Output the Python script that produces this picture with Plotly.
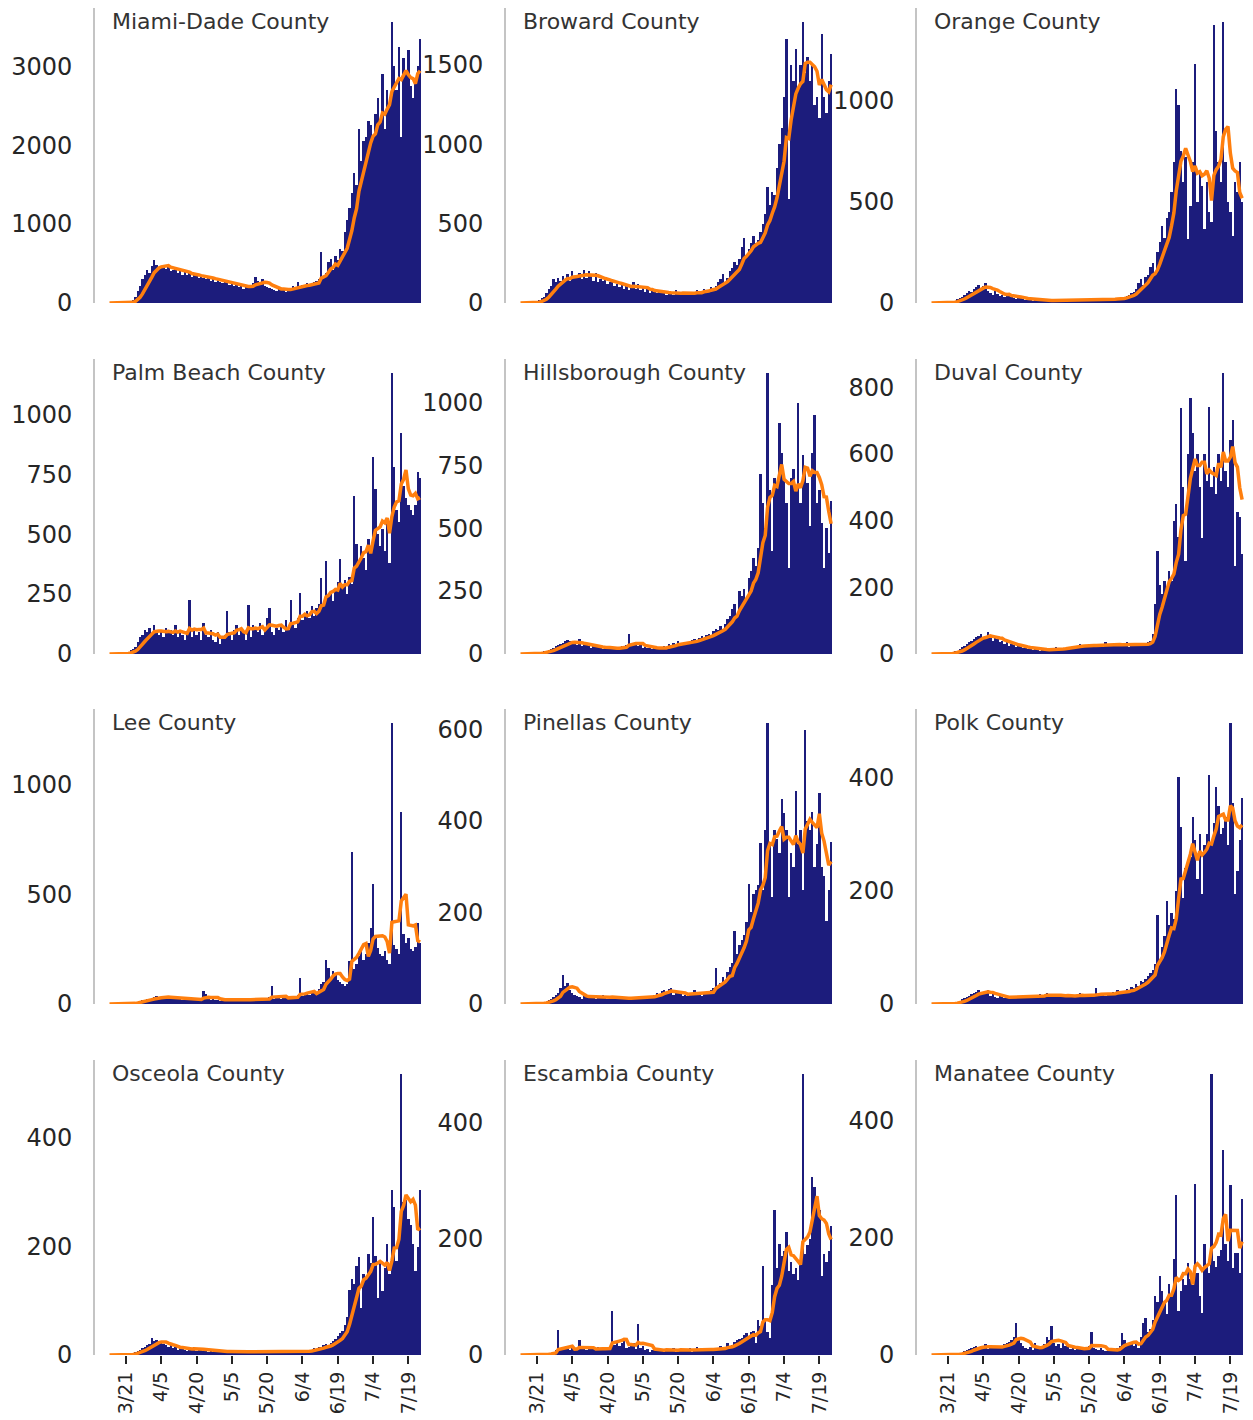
import pandas as pd
import plotly.graph_objects as go

# ---------------- data ----------------
start_date = "2020-03-14"
n_days = 133

counties = ["Miami-Dade County", "Broward County", "Orange County",
            "Palm Beach County", "Hillsborough County", "Duval County",
            "Lee County", "Pinellas County", "Polk County",
            "Osceola County", "Escambia County", "Manatee County"]

miami_dade = [0, 0, 0, 0, 0, 1, 2, 3, 5, 10,
              40, 80, 150, 220, 300, 350, 420, 380, 470, 550,
              480, 450, 460, 470, 430, 480, 400, 420, 460, 380,
              400, 360, 410, 350, 380, 330, 360, 340, 320, 350,
              320, 300, 340, 280, 310, 260, 300, 270, 250, 290,
              260, 230, 250, 210, 240, 200, 220, 180, 230, 190,
              210, 250, 330, 280, 240, 300, 220, 200, 190, 180,
              170, 150, 200, 160, 190, 140, 180, 170, 210, 190,
              260, 200, 230, 210, 250, 240, 230, 260, 280, 300,
              650, 320, 380, 520, 560, 420, 600, 540, 680, 660,
              900, 1050, 1200, 1400, 1650, 1500, 2200, 1800, 2050, 2100,
              2300, 2250, 2100, 2400, 2600, 2300, 2900, 2200, 2700, 2500,
              3560, 3000, 2700, 3250, 2100, 3100, 2900, 3200, 2750, 2600,
              2800, 3000, 3350]

broward = [0, 0, 0, 0, 1, 2, 5, 10, 20, 30,
           40, 60, 90, 110, 150, 130, 160, 140, 170, 150,
           180, 140, 200, 160, 170, 190, 150, 210, 160, 200,
           170, 140, 190, 130, 150, 140, 160, 120, 130, 150,
           110, 120, 100, 130, 90, 110, 80, 100, 130, 90,
           120, 80, 100, 70, 90, 60, 80, 70, 60, 80,
           70, 60, 50, 70, 60, 50, 80, 60, 55, 70,
           60, 50, 70, 65, 60, 80, 70, 60, 90, 80,
           85, 100, 90, 110, 130, 150, 180, 120, 160, 200,
           220, 260, 240, 280, 350, 410, 300, 340, 380, 420,
           380, 400, 450, 500, 560, 730, 620, 700, 680, 850,
           1000, 1100, 1300, 1665, 656, 1500, 1400, 1600, 1350, 1500,
           1770, 1450, 1550, 1400, 1500, 1250, 1300, 1165, 1696, 1300,
           1200, 1400, 1570]

orange = [0, 0, 0, 0, 0, 0, 2, 3, 5, 8,
          10, 20, 25, 30, 40, 50, 60, 55, 70, 80,
          90, 75, 85, 100, 60, 50, 40, 70, 45, 35,
          40, 30, 35, 45, 30, 25, 20, 30, 25, 20,
          15, 20, 18, 12, 15, 10, 14, 12, 16, 10,
          12, 14, 10, 15, 13, 11, 20, 12, 10, 14,
          12, 15, 13, 10, 16, 18, 14, 12, 15, 20,
          16, 14, 18, 20, 15, 22, 18, 16, 20, 25,
          22, 28, 30, 35, 40, 50, 55, 70, 100, 120,
          90, 130, 140, 180, 200, 150, 250, 300, 380, 320,
          420, 450, 550, 700, 1057, 982, 750, 600, 720, 315,
          480, 700, 1182, 500, 650, 580, 365, 600, 450, 400,
          1373, 850, 700, 600, 1390, 700, 500, 450, 330, 600,
          550, 698, 500]

palm_beach = [0, 0, 0, 0, 0, 1, 2, 5, 8, 15,
              20, 30, 50, 70, 80, 100, 90, 110, 80, 120,
              90, 80, 100, 70, 110, 90, 100, 80, 120, 70,
              100, 80, 60, 90, 227, 70, 100, 80, 90, 60,
              130, 80, 70, 100, 60, 50, 90, 40, 70, 80,
              178, 90, 60, 100, 120, 80, 110, 90, 60, 206,
              70, 120, 100, 90, 130, 80, 110, 150, 192, 90,
              80, 110, 100, 120, 90, 140, 100, 227, 120, 110,
              150, 255, 140, 160, 180, 150, 200, 160, 190, 210,
              318, 200, 388, 240, 250, 220, 270, 300, 395, 280,
              310, 250, 320, 290, 661, 458, 380, 450, 400, 350,
              480, 420, 822, 689, 500, 450, 520, 430, 560, 380,
              1172, 780, 600, 550, 920, 700, 650, 620, 600, 580,
              620, 759, 735]

hillsborough = [0, 0, 0, 0, 0, 1, 2, 3, 5, 8,
                10, 12, 15, 20, 25, 30, 35, 40, 45, 50,
                55, 50, 45, 40, 35, 60, 30, 40, 35, 30,
                25, 30, 28, 35, 25, 20, 22, 30, 18, 25,
                20, 22, 25, 30, 28, 35, 80, 40, 35, 45,
                30, 35, 25, 28, 22, 30, 20, 25, 22, 20,
                25, 30, 28, 40, 35, 45, 30, 50, 40, 45,
                48, 42, 50, 55, 60, 50, 65, 70, 60, 75,
                80, 70, 90, 100, 95, 110, 100, 120, 140, 150,
                180, 200, 160, 250, 230, 260, 220, 300, 330, 380,
                350, 420, 716, 600, 500, 1116, 650, 409, 700, 680,
                916, 800, 700, 600, 343, 700, 736, 650, 996, 600,
                789, 720, 680, 509, 800, 949, 600, 650, 520, 343,
                500, 400, 609]

duval = [0, 0, 0, 0, 0, 0, 1, 2, 3, 5,
         8, 10, 15, 20, 25, 30, 35, 40, 45, 50,
         55, 60, 50, 45, 65, 55, 40, 50, 45, 35,
         40, 30, 35, 25, 30, 28, 20, 25, 22, 18,
         20, 15, 18, 12, 15, 14, 10, 16, 12, 14,
         10, 15, 12, 20, 14, 16, 18, 15, 20, 22,
         25, 20, 24, 30, 22, 26, 28, 25, 30, 20,
         28, 25, 30, 22, 35, 28, 26, 30, 24, 32,
         25, 30, 28, 35, 22, 30, 26, 28, 32, 25,
         30, 28, 35, 40, 60, 150, 309, 208, 180, 220,
         200, 250, 220, 400, 450, 350, 737, 500, 279, 600,
         767, 662, 550, 600, 500, 349, 601, 520, 742, 500,
         560, 480, 600, 520, 843, 550, 500, 641, 702, 264,
         425, 410, 300]

lee = [0, 0, 0, 0, 0, 0, 1, 1, 2, 3,
       5, 8, 10, 15, 18, 20, 25, 22, 28, 30,
       35, 30, 28, 32, 35, 30, 25, 30, 28, 25,
       22, 20, 25, 18, 22, 20, 25, 18, 20, 22,
       60, 45, 25, 20, 22, 18, 20, 15, 22, 18,
       20, 25, 18, 22, 20, 15, 20, 22, 18, 20,
       22, 25, 20, 18, 22, 24, 20, 26, 30, 80,
       25, 28, 30, 22, 26, 35, 30, 25, 28, 32,
       40, 118, 35, 45, 50, 40, 55, 60, 50, 70,
       90, 100, 202, 164, 120, 150, 130, 110, 100, 90,
       80, 90, 194, 691, 160, 180, 220, 250, 200, 230,
       280, 347, 546, 300, 255, 230, 220, 240, 200, 180,
       1280, 271, 250, 230, 875, 317, 280, 301, 250, 240,
       260, 370, 278]

pinellas = [0, 0, 0, 0, 0, 0, 1, 1, 2, 3,
            4, 5, 8, 10, 15, 20, 25, 35, 64, 40,
            45, 30, 25, 20, 18, 15, 12, 20, 15, 14,
            18, 15, 12, 16, 14, 20, 15, 12, 14, 16,
            12, 10, 14, 12, 15, 13, 11, 14, 12, 15,
            14, 12, 16, 15, 13, 18, 15, 20, 25, 22,
            28, 30, 25, 32, 35, 20, 25, 28, 22, 18,
            20, 18, 22, 25, 30, 24, 20, 18, 22, 25,
            28, 30, 35, 79, 40, 45, 60, 50, 70, 80,
            90, 160, 110, 130, 140, 150, 180, 263, 200, 240,
            250, 260, 352, 250, 380, 614, 350, 234, 380, 360,
            330, 448, 418, 380, 234, 330, 300, 466, 350, 380,
            249, 599, 400, 380, 420, 300, 350, 462, 300, 280,
            182, 250, 355]

polk = [0, 0, 0, 0, 0, 0, 0, 1, 1, 2,
        3, 4, 5, 8, 10, 12, 15, 18, 20, 22,
        25, 20, 18, 22, 24, 15, 20, 12, 10, 14,
        12, 10, 14, 11, 13, 12, 15, 10, 14, 12,
        13, 15, 11, 14, 16, 12, 18, 15, 14, 20,
        12, 15, 18, 14, 16, 13, 15, 12, 17, 14,
        15, 13, 16, 20, 14, 12, 18, 15, 13, 16,
        28, 14, 16, 18, 15, 20, 17, 22, 19, 25,
        20, 18, 22, 26, 24, 30, 28, 35, 32, 40,
        38, 45, 50, 55, 60, 70, 158, 80, 100, 120,
        182, 140, 160, 150, 200, 401, 312, 188, 240, 250,
        260, 330, 289, 220, 300, 194, 280, 300, 404, 280,
        320, 383, 350, 300, 310, 330, 280, 496, 354, 194,
        235, 290, 363]

osceola = [0, 0, 0, 0, 0, 0, 0, 1, 1, 2,
           3, 5, 8, 10, 12, 15, 18, 20, 31, 25,
           28, 22, 25, 20, 18, 15, 20, 12, 14, 10,
           12, 15, 10, 8, 12, 10, 14, 8, 10, 12,
           8, 10, 6, 8, 5, 7, 6, 8, 5, 6,
           7, 5, 8, 6, 4, 7, 5, 8, 6, 5,
           6, 4, 7, 5, 6, 8, 5, 4, 6, 7,
           5, 6, 4, 7, 5, 6, 8, 5, 6, 7,
           6, 5, 7, 8, 6, 9, 10, 12, 11, 14,
           15, 18, 20, 16, 22, 25, 30, 35, 40, 45,
           55, 70, 120, 140, 130, 164, 180, 87, 150, 140,
           186, 170, 254, 183, 105, 170, 118, 160, 205, 150,
           304, 273, 174, 230, 518, 282, 285, 250, 240, 205,
           155, 200, 304]

escambia = [0, 0, 0, 0, 0, 0, 0, 0, 1, 1,
            2, 3, 2, 4, 5, 8, 43, 10, 8, 12,
            10, 9, 14, 8, 12, 26, 10, 12, 8, 11,
            10, 12, 9, 14, 11, 8, 12, 10, 15, 75,
            18, 22, 15, 20, 25, 12, 14, 18, 20, 10,
            53, 12, 15, 8, 10, 6, 9, 12, 7, 10,
            8, 6, 10, 7, 9, 12, 6, 8, 10, 7,
            9, 8, 12, 6, 10, 14, 8, 7, 11, 9,
            10, 8, 12, 9, 11, 15, 10, 12, 20, 14,
            18, 22, 25, 28, 30, 35, 38, 32, 40, 42,
            20, 60, 50, 154, 60, 40, 30, 120, 249, 150,
            191, 170, 180, 212, 145, 160, 140, 150, 130, 155,
            484, 174, 190, 200, 307, 290, 270, 250, 136, 174,
            160, 180, 223]

manatee = [0, 0, 0, 0, 0, 0, 0, 0, 1, 1,
           2, 1, 3, 4, 6, 8, 10, 12, 14, 15,
           12, 16, 14, 18, 10, 15, 12, 14, 16, 13,
           15, 18, 20, 22, 25, 30, 55, 28, 20, 15,
           12, 10, 14, 8, 20, 12, 10, 16, 18, 30,
           25, 49, 20, 15, 18, 12, 20, 16, 14, 10,
           12, 8, 10, 14, 9, 11, 13, 15, 40, 12,
           10, 8, 12, 9, 7, 10, 8, 6, 9, 12,
           15, 37, 25, 20, 18, 22, 15, 18, 12, 30,
           55, 63, 40, 45, 60, 100, 90, 135, 110, 90,
           70, 121, 100, 164, 273, 75, 110, 130, 120, 158,
           130, 120, 293, 140, 100, 72, 190, 155, 140, 480,
           160, 150, 170, 180, 351, 190, 160, 290, 149, 175,
           175, 140, 267]

series = [miami_dade, broward, orange, palm_beach, hillsborough, duval,
          lee, pinellas, polk, osceola, escambia, manatee]

y_dticks = [1000, 500, 500, 250, 250, 200, 500, 200, 200, 200, 200, 200]

tick_dates = ["2020-03-21", "2020-04-05", "2020-04-20", "2020-05-05", "2020-05-20",
              "2020-06-04", "2020-06-19", "2020-07-04", "2020-07-19"]
tick_labels = ["3/21", "4/5", "4/20", "5/5", "5/20", "6/4", "6/19", "7/4", "7/19"]

# ---------------- figure ----------------
# the page body has an 8px default margin, so the figure is laid out in
# page pixels minus that offset
OFF = 8
W, H = 1253 - OFF, 1420 - OFF
dates = pd.date_range(start_date, periods=n_days, freq="D")

BAR = "#1c1c7c"
LINE = "#ff7f0e"
FONT = "DejaVu Sans, Verdana, sans-serif"

col_px = [(95, 426), (506, 837), (917, 1248)]
row_px = [(8, 303), (359, 654), (709, 1004), (1060, 1355)]
x_range = [pd.Timestamp(start_date) - pd.Timedelta(hours=6.17 * 24),
           pd.Timestamp(start_date) + pd.Timedelta(hours=134.5 * 24)]

fig = go.Figure()
layout = dict(width=W, height=H,
              margin=dict(l=0, r=0, t=0, b=0, pad=0, autoexpand=False),
              paper_bgcolor="white", plot_bgcolor="white", showlegend=False,
              bargap=0, font=dict(family=FONT, color="#262626"))
annotations = []

for i, (name, vals) in enumerate(zip(counties, series)):
    assert len(vals) == n_days, name
    r, c = divmod(i, 3)
    k = "" if i == 0 else str(i + 1)
    s = pd.Series(vals, dtype=float)
    avg = s.rolling(7, min_periods=1).mean()

    fig.add_trace(go.Bar(x=dates, y=vals, marker=dict(color=BAR, line=dict(width=0)),
                         width=86400000, xaxis="x" + k, yaxis="y" + k,
                         hoverinfo="x+y"))
    fig.add_trace(go.Scatter(x=dates, y=avg, mode="lines",
                             line=dict(color=LINE, width=3.5),
                             xaxis="x" + k, yaxis="y" + k))

    x0, x1 = (p - OFF for p in col_px[c])
    y0, y1 = (p - OFF for p in row_px[r])
    bottom = (r == 3)
    layout["xaxis" + k] = dict(
        domain=[x0 / W, x1 / W], anchor="y" + k, type="date", range=x_range,
        tickvals=tick_dates, ticktext=tick_labels, tickangle=-90,
        showticklabels=bottom, ticks="outside" if bottom else "",
        ticklen=8, tickwidth=1.6, tickcolor="#262626",
        tickfont=dict(size=19, color="#262626"), automargin=False,
        showgrid=False, zeroline=False, showline=False, fixedrange=True)
    layout["yaxis" + k] = dict(
        domain=[1 - y1 / H, 1 - y0 / H], anchor="x" + k,
        range=[0, max(vals) * 1.05], dtick=y_dticks[i], tick0=0,
        showline=True, linecolor="#c4c4c4", linewidth=1.6,
        ticks="", ticklabelstandoff=16, automargin=False,
        tickfont=dict(size=24, color="#262626"),
        showgrid=False, zeroline=False, fixedrange=True)
    annotations.append(dict(
        text=name, xref="paper", yref="paper",
        x=(x0 + 16) / W, y=1 - y0 / H,
        xanchor="left", yanchor="top", borderpad=0, showarrow=False,
        font=dict(size=22, color="#333333", family=FONT)))

layout["annotations"] = annotations
fig.update_layout(**layout)
fig.write_html("out.html")
